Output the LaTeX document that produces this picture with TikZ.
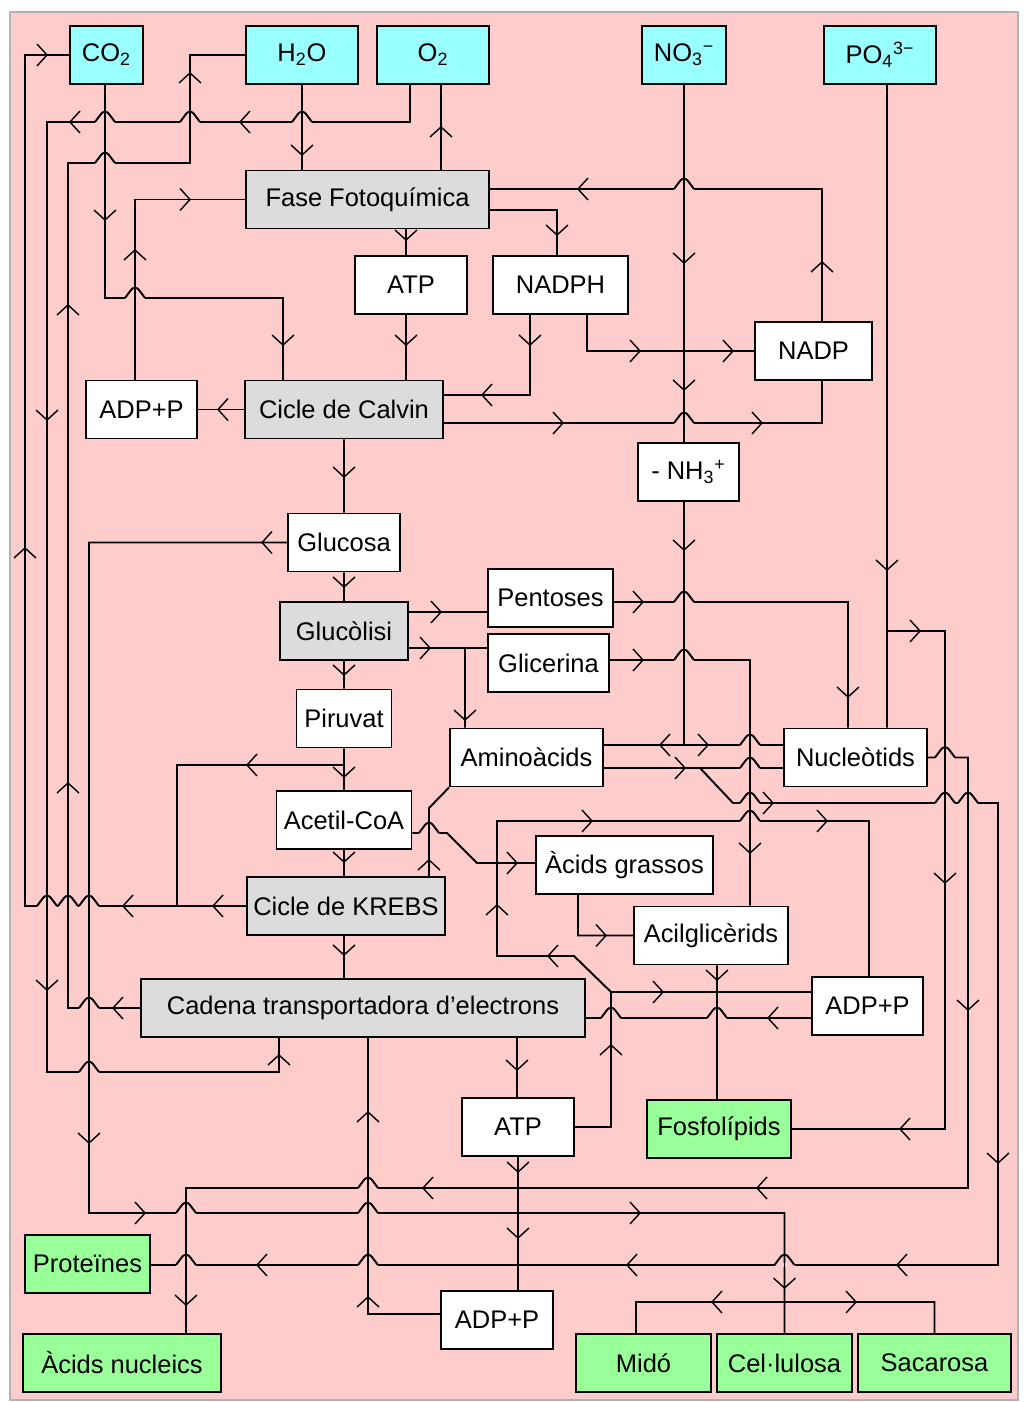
\documentclass[tikz,border=0pt]{standalone}
\usepackage{fontspec}
\setmainfont{Liberation Sans}
\definecolor{bgpink}{RGB}{255,204,204}
\definecolor{cyanbox}{RGB}{153,255,255}
\definecolor{graybox}{RGB}{220,220,220}
\definecolor{greenbox}{RGB}{153,255,153}
\tikzset{
every node/.style={font=\fontsize{14.5}{17}\selectfont}, % text of the boxes
box/.style={draw, line width=1.1pt, inner sep=0pt, minimum height=1.16cm, fill=white}, % white boxes
source/.style={box, fill=cyanbox}, % inorganic inputs
proc/.style={box, fill=graybox}, % processes
prod/.style={box, fill=greenbox}, % final products
conn/.style={line width=1.1pt}, % connectors
tip/.style={line width=0.8pt}, % open arrow heads in the middle of a line
ar r/.pic={\draw[tip] (-10,-11) -- (0,0) -- (-10,11);},
ar l/.pic={\draw[tip] (10,-11) -- (0,0) -- (10,11);},
ar u/.pic={\draw[tip] (-11,10) -- (0,0) -- (11,10);},
ar d/.pic={\draw[tip] (-11,-10) -- (0,0) -- (11,-10);},
hop/.pic={\fill[bgpink] (-10,-1.6) rectangle (10,1.6); % horizontal line jumps over a vertical one
  \draw[conn] (0,-3) -- (0,3);
  \draw[conn] (-10,0) -- (-4,-8) .. controls (-2,-11) and (2,-11) .. (4,-8) -- (10,0);},
}

\begin{document}
\begin{tikzpicture}[x=0.02cm, y=-0.02cm]
    \useasboundingbox (0,0) rectangle (1024,1402);
    \fill[bgpink, draw=gray!60, line width=0.8pt] (10,12) rectangle (1018,1400);

    \node[source, minimum width=1.46cm] (co2) at (106.5,55) {CO\textsubscript{2}};
    \node[source, minimum width=2.24cm] (h2o) at (302,55) {H\textsubscript{2}O};
    \node[source, minimum width=2.24cm] (o2) at (433,55) {O\textsubscript{2}};
    \node[source, minimum width=1.68cm] (no3) at (684,55) {NO\textsubscript{3}\textsuperscript{−}};
    \node[source, minimum width=2.24cm] (po4) at (880,55) {PO\textsubscript{4}\textsuperscript{3−}};
    \node[proc, minimum width=4.86cm] (fase) at (367.5,199.5) {Fase Fotoquímica};
    \node[box, minimum width=2.24cm] (atp1) at (411,285) {ATP};
    \node[box, minimum width=2.7cm] (nadph) at (560.5,285) {NADPH};
    \node[box, minimum width=2.34cm] (nadp) at (813.5,351) {NADP};
    \node[box, minimum width=2.22cm] (adp1) at (141.5,409.5) {ADP+P};
    \node[proc, minimum width=3.96cm] (calvin) at (344,409.5) {Cicle de Calvin};
    \node[box, minimum width=2.02cm] (nh3) at (688.5,472) {- NH\textsubscript{3}\textsuperscript{+}};
    \node[box, minimum width=2.24cm] (glucosa) at (344,542.5) {Glucosa};
    \node[proc, minimum width=2.56cm] (gluco) at (344,631) {Glucòlisi};
    \node[box, minimum width=2.5cm] (pent) at (550.5,598) {Pentoses};
    \node[box, minimum width=2.42cm] (glic) at (548.5,663) {Glicerina};
    \node[box, minimum width=1.9cm] (piru) at (344,718.5) {Piruvat};
    \node[box, minimum width=3.06cm] (amino) at (526.5,757.5) {Aminoàcids};
    \node[box, minimum width=2.86cm] (nucleo) at (855.5,757.5) {Nucleòtids};
    \node[box, minimum width=2.7cm] (acetil) at (344,820) {Acetil-CoA};
    \node[box, minimum width=3.54cm] (grassos) at (624.5,865) {Àcids grassos};
    \node[proc, minimum width=3.96cm] (krebs) at (346,906) {Cicle de KREBS};
    \node[box, minimum width=3.08cm] (acilg) at (711,935.5) {Acilglicèrids};
    \node[proc, minimum width=8.88cm] (cadena) at (363,1008) {Cadena transportadora d’electrons};
    \node[box, minimum width=2.22cm] (adp2) at (867.5,1006) {ADP+P};
    \node[box, minimum width=2.24cm] (atp2) at (518,1127) {ATP};
    \node[prod, minimum width=2.88cm] (fosfo) at (719,1129) {Fosfolípids};
    \node[prod, minimum width=2.5cm] (prot) at (87.5,1264) {Proteïnes};
    \node[box, minimum width=2.24cm] (adp3) at (497,1320) {ADP+P};
    \node[prod, minimum width=3.96cm] (nucleics) at (122,1363) {Àcids nucleics};
    \node[prod, minimum width=2.7cm] (mido) at (643.5,1363) {Midó};
    \node[prod, minimum width=2.7cm] (cellu) at (784.5,1363) {Cel·lulosa};
    \node[prod, minimum width=3.06cm] (sacar) at (934.5,1363) {Sacarosa};

    % photosynthesis
    \draw[conn]
    (krebs.west) -| (25,55) -- (co2.west)
    (piru.south |- 0,765) -- (177,765) -- (177,906)
    (h2o.south) -- (h2o.south |- fase.north)
    (cadena.west) -| (68,163) -| (190,55) -- (h2o.west)
    (441,0 |- fase.north) -- (441,0 |- o2.south)
    (410,0 |- o2.south) |- (47,122) |- (279,1072) -- (279,0 |- cadena.south)
    (105,0 |- co2.south) |- (283,298) -- (283,0 |- calvin.north)
    (135,0 |- adp1.north) |- (fase.west)
    (406,0 |- fase.south) -- (406,0 |- atp1.north)
    (406,0 |- atp1.south) -- (406,0 |- calvin.north)
    (fase.east |- 0,210) -| (557,0 |- nadph.north)
    (530,0 |- nadph.south) |- (calvin.east |- 0,395)
    (587,0 |- nadph.south) |- (nadp.west)
    (822,0 |- nadp.north) |- (fase.east |- 0,189)
    (calvin.east |- 0,423) -| (822,0 |- nadp.south)
    (calvin.west) -- (adp1.east);

    % glucose and respiration
    \draw[conn]
    (calvin.south) -- (glucosa.north)
    (glucosa.south) -- (gluco.north)
    (gluco.south) -- (piru.north)
    (piru.south) -- (acetil.north)
    (acetil.south) -- (acetil.south |- krebs.north)
    (acetil.south |- krebs.south) -- (acetil.south |- cadena.north)
    (glucosa.west) -| (89,1213) -| (cellu.north)
    (636,0 |- mido.north) |- (sacar.north |- 0,1302) -- (sacar.north)
    (gluco.east |- 0,612) -- (pent.west |- 0,612)
    (gluco.east |- 0,648) -- (glic.west |- 0,648)
    (465,648) -- (465,0 |- amino.north)
    (517,0 |- cadena.south) -- (517,0 |- atp2.north)
    (518,0 |- atp2.south) -- (518,0 |- adp3.north)
    (adp3.west |- 0,1314) -| (368,0 |- cadena.south)
    (atp2.east) -| (611,992) -- (adp2.west |- 0,992)
    (611,992) -- (574,956) -| (497,821) -| (869,0 |- adp2.north)
    (adp2.west |- 0,1018) -- (cadena.east |- 0,1018);

    % synthesis of the other molecules
    \draw[conn]
    (pent.east |- 0,602) -| (848,0 |- nucleo.north)
    (glic.east |- 0,660) -| (750,0 |- acilg.north)
    (no3.south) -- (no3.south |- nh3.north)
    (684,0 |- nh3.south) -- (684,745)
    (amino.east |- 0,745) -- (nucleo.west |- 0,745)
    (amino.east |- 0,768) -- (nucleo.west |- 0,768)
    (700,768) -- (733,803) -| (998,1265) -- (prot.east |- 0,1265)
    (nucleo.east) -| (968,1188) -| (186,0 |- nucleics.north)
    (887,0 |- po4.south) -- (887,0 |- nucleo.north)
    (887,631) -| (945,1129) -- (fosfo.east)
    (717,0 |- acilg.south) -- (717,0 |- fosfo.north)
    (429,0 |- krebs.north) -- (429,808) -- (amino.south west)
    (acetil.east |- 0,833) -- (447,833) -- (477,863) -- (grassos.west |- 0,863)
    (578,0 |- grassos.south) |- (acilg.west);

    \path (47,906) pic{hop} (68,906) pic{hop} (89,906) pic{hop} (89,1008) pic{hop}
    (105,163) pic{hop} (302,122) pic{hop} (190,122) pic{hop} (105,122) pic{hop}
    (89,1072) pic{hop} (135,298) pic{hop} (684,189) pic{hop} (684,423) pic{hop}
    (684,602) pic{hop} (684,660) pic{hop} (750,745) pic{hop} (750,768) pic{hop}
    (750,803) pic{hop} (750,821) pic{hop} (945,803) pic{hop} (968,803) pic{hop}
    (945,757.5) pic{hop} (784.5,1265) pic{hop} (368,1265) pic{hop} (186,1265) pic{hop}
    (186,1213) pic{hop} (368,1213) pic{hop} (368,1188) pic{hop} (717,1018) pic{hop}
    (611,1018) pic{hop} (429,833) pic{hop};

    \path (47,55) pic{ar r} (190,199.5) pic{ar r} (640,351) pic{ar r} (733,351) pic{ar r}
    (563,423) pic{ar r} (762,423) pic{ar r} (441,612) pic{ar r} (430,648) pic{ar r}
    (643,602) pic{ar r} (643,660) pic{ar r} (708,745) pic{ar r} (685,768) pic{ar r}
    (773,803) pic{ar r} (517,863) pic{ar r} (606,935.5) pic{ar r} (663,992) pic{ar r}
    (592,821) pic{ar r} (827,821) pic{ar r} (920,631) pic{ar r} (145,1213) pic{ar r}
    (640,1213) pic{ar r} (856,1302) pic{ar r};
    \path (123,906) pic{ar l} (213,906) pic{ar l} (247,765) pic{ar l} (113,1008) pic{ar l}
    (240,122) pic{ar l} (70,122) pic{ar l} (218,409.5) pic{ar l} (482,395) pic{ar l}
    (578,189) pic{ar l} (660,745) pic{ar l} (897,1265) pic{ar l} (627,1265) pic{ar l}
    (257,1265) pic{ar l} (757,1188) pic{ar l} (423,1188) pic{ar l} (900,1129) pic{ar l}
    (548,956) pic{ar l} (768,1018) pic{ar l} (712,1302) pic{ar l} (262,542.5) pic{ar l};
    \path (25,548) pic{ar u} (68,305) pic{ar u} (68,783) pic{ar u} (190,73) pic{ar u}
    (441,127) pic{ar u} (279,1055) pic{ar u} (135,250) pic{ar u} (822,262) pic{ar u}
    (429,860) pic{ar u} (611,1045) pic{ar u} (497,905) pic{ar u} (368,1297) pic{ar u}
    (368,1112) pic{ar u};
    \path (302,155) pic{ar d} (47,420) pic{ar d} (47,990) pic{ar d} (105,220) pic{ar d}
    (283,345) pic{ar d} (406,240) pic{ar d} (406,345) pic{ar d} (557,235) pic{ar d}
    (530,345) pic{ar d} (344,477) pic{ar d} (344,587) pic{ar d} (89,1143) pic{ar d}
    (784.5,1288) pic{ar d} (465,720) pic{ar d} (344,675) pic{ar d} (344,777) pic{ar d}
    (344,862) pic{ar d} (344,955) pic{ar d} (848,697) pic{ar d} (750,853) pic{ar d}
    (684,263) pic{ar d} (684,390) pic{ar d} (684,550) pic{ar d} (968,1010) pic{ar d}
    (186,1305) pic{ar d} (887,570) pic{ar d} (945,883) pic{ar d} (717,980) pic{ar d}
    (517,1070) pic{ar d} (518,1172) pic{ar d} (518,1238) pic{ar d} (998,1163) pic{ar d};
\end{tikzpicture}
\end{document}
